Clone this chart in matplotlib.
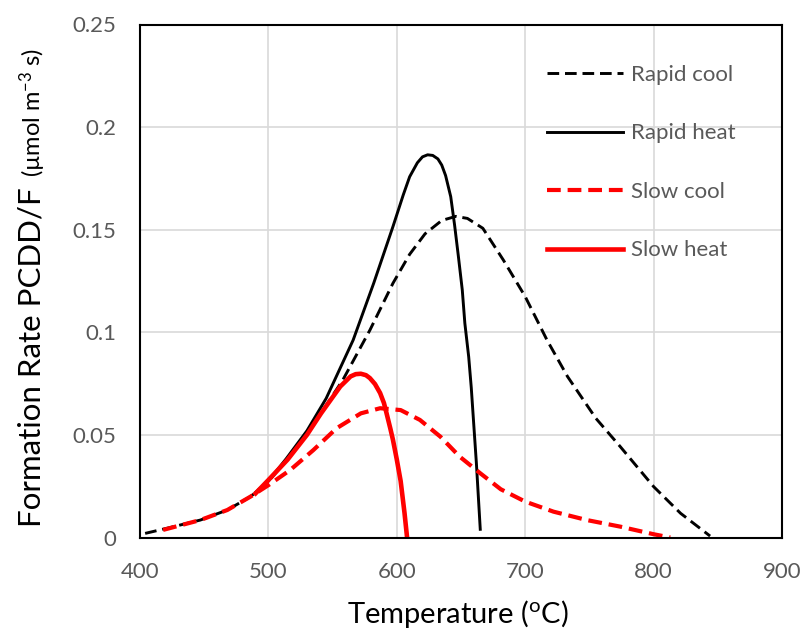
import matplotlib
matplotlib.use('Agg')
import matplotlib.pyplot as plt

plt.rcParams['font.family'] = ['Lato', 'DejaVu Sans']
plt.rcParams['mathtext.fontset'] = 'custom'
plt.rcParams['mathtext.rm'] = 'Lato'

# values
rapid_cool_x = [404, 421, 447, 468, 486, 500, 514, 530, 544, 558, 579, 597, 610, 622, 635,
                646, 655, 667, 683, 700, 717, 733, 755, 774, 800, 821, 844]
rapid_cool_y = [0.002, 0.0045, 0.0085, 0.0134, 0.0199, 0.0272, 0.0378, 0.0505, 0.0635, 0.0768,
                0.101, 0.1239, 0.138, 0.148, 0.1545, 0.1565, 0.1555, 0.1507, 0.1352, 0.1174,
                0.0962, 0.0784, 0.0581, 0.0443, 0.0248, 0.0118, 0.0007]

rapid_heat_x = [490, 500, 514, 530, 545, 566, 582, 597, 605, 610, 616, 620, 624, 628, 632,
                635, 638, 642, 645, 648, 651, 653, 656, 658, 662, 665]
rapid_heat_y = [0.022, 0.0275, 0.0385, 0.052, 0.0678, 0.0962, 0.1239, 0.1515, 0.1669, 0.1758,
                0.1826, 0.1855, 0.1865, 0.1862, 0.1845, 0.1815, 0.1764, 0.1661, 0.1523, 0.1368,
                0.1206, 0.1044, 0.088, 0.073, 0.036, 0.004]

slow_cool_x = [418, 447, 468, 486, 500, 517, 535, 553, 572, 587, 603, 618, 634, 649, 665,
               681, 700, 722, 748, 774, 800, 813]
slow_cool_y = [0.0037, 0.0085, 0.0134, 0.0199, 0.0255, 0.0329, 0.0426, 0.0532, 0.0605, 0.063,
               0.0621, 0.0573, 0.0491, 0.0394, 0.0313, 0.0235, 0.0175, 0.0126, 0.0085, 0.0053,
               0.0016, 0.0]

slow_heat_x = [490, 500, 515, 530, 541, 549, 556, 564, 568, 572, 576, 579, 583, 587, 590,
               592, 595, 597, 600, 603, 606, 608]
slow_heat_y = [0.0215, 0.028, 0.038, 0.050, 0.0605, 0.0675, 0.0736, 0.0785, 0.0796, 0.0798,
               0.0791, 0.0777, 0.0748, 0.0704, 0.0655, 0.0606, 0.053, 0.0476, 0.038, 0.0275,
               0.012, 0.0]

x_ticks = [400, 500, 600, 700, 800, 900]
y_ticks = [0, 0.05, 0.1, 0.15, 0.2, 0.25]
y_ticklabels = ['0', '0.05', '0.1', '0.15', '0.2', '0.25']

W, H = 806, 632
fig = plt.figure(figsize=(W / 100, H / 100), dpi=100)
ax = fig.add_axes([140 / W, 1 - 537.5 / H, 642 / W, 513 / H])

gray = '#595959'
ax.plot(rapid_cool_x, rapid_cool_y, color='black', lw=2.1, linestyle=(0, (4, 2)), label='Rapid cool')
ax.plot(rapid_heat_x, rapid_heat_y, color='black', lw=2.1, label='Rapid heat')
ax.plot(slow_cool_x, slow_cool_y, color='red', lw=3.0, linestyle=(0, (3.3, 1.65)), label='Slow cool')
ax.plot(slow_heat_x, slow_heat_y, color='red', lw=3.3, label='Slow heat')

ax.set_xlim(400, 900)
ax.set_ylim(0, 0.25)
ax.set_xticks(x_ticks)
ax.set_yticks(y_ticks)
ax.set_yticklabels(y_ticklabels)
ax.tick_params(length=0, labelsize=16, labelcolor=gray)
ax.tick_params(axis='x', pad=18)
ax.tick_params(axis='y', pad=17)
ax.grid(color='#d9d9d9', lw=1.2)
ax.set_axisbelow(True)
for s in ax.spines.values():
    s.set_linewidth(1.5)
    s.set_color('black')

ax.set_xlabel(r'Temperature ($\mathregular{^{o}}$C)', fontsize=21)
ax.xaxis.set_label_coords(0.495, -0.118)

# y label in two sizes, like the original
fig.text(41 / W, 1 - 527 / H, 'Formation Rate PCDD/F', rotation=90, fontsize=22.5,
         ha='left', va='baseline', rotation_mode='anchor')
fig.text(41 / W, 1 - 177 / H, '(\u00b5mol m$\\mathregular{^{-3}}$ s)', rotation=90, fontsize=17,
         ha='left', va='baseline', rotation_mode='anchor')

leg = ax.legend(loc='upper left', bbox_to_anchor=(527 / W, 1 - 45 / H), bbox_transform=fig.transFigure,
                frameon=False, fontsize=16, handlelength=3.42, handletextpad=0.36, labelspacing=1.73)
for t in leg.get_texts():
    t.set_color(gray)

fig.savefig('out.png', dpi=100)
